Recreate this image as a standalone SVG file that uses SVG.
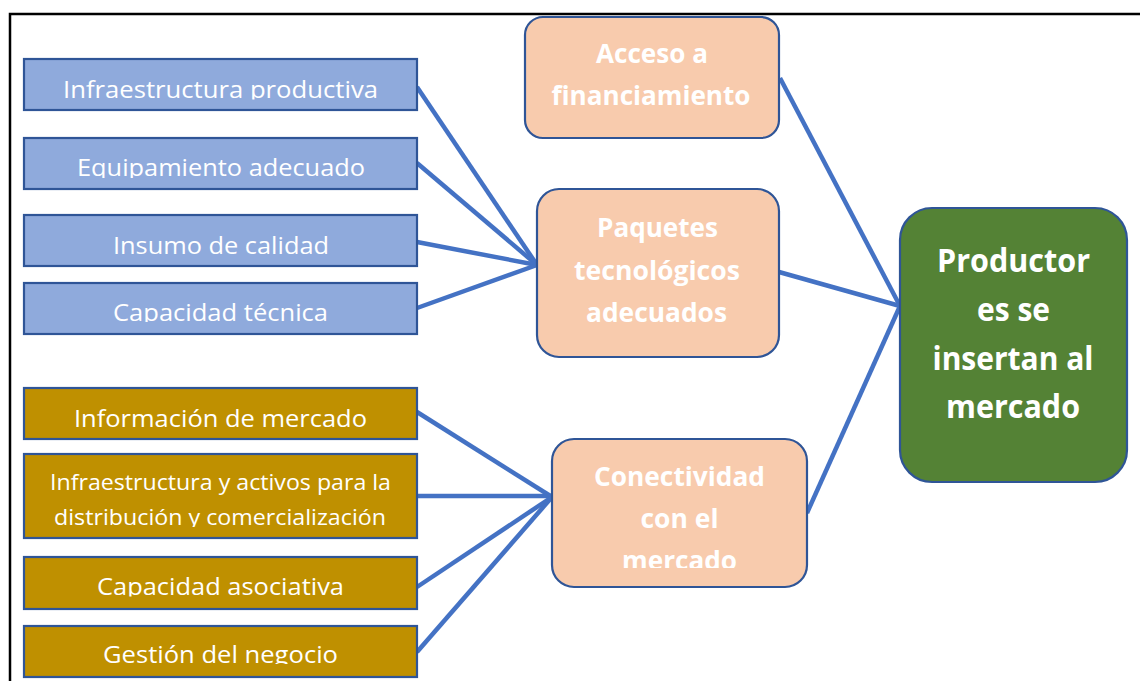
<svg xmlns="http://www.w3.org/2000/svg" width="1140" height="681" viewBox="0 0 1140 681">
<defs>
<style>
.frame{stroke:#000;stroke-width:2.5;fill:none}
.blue{fill:#8faadc;stroke:#2f5597;stroke-width:2.2}
.gold{fill:#bf9000;stroke:#2f5597;stroke-width:2.2}
.peach{fill:#f8cbad;stroke:#2f5597;stroke-width:2.2}
.green{fill:#548235;stroke:#2f5597;stroke-width:2.2}
.conn{stroke:#4472c4;stroke-width:4.5;fill:none;stroke-linecap:butt}
.t{font-family:"Open Sans","Liberation Sans",sans-serif;fill:#fff;text-anchor:middle;font-size:24px}
.t2{font-size:22px}
.b{font-family:"Open Sans","Liberation Sans",sans-serif;fill:#fff;text-anchor:middle;font-weight:bold;font-size:27px}
.g{font-size:32px}
</style>
<clipPath id="c1"><rect x="0" y="0" width="1140" height="99.5"/></clipPath>
<clipPath id="c2"><rect x="0" y="0" width="1140" height="178"/></clipPath>
<clipPath id="c4"><rect x="0" y="0" width="1140" height="322"/></clipPath>
<clipPath id="c6"><rect x="0" y="0" width="1140" height="527"/></clipPath>
<clipPath id="c7"><rect x="0" y="0" width="1140" height="596.5"/></clipPath>
<clipPath id="c8"><rect x="0" y="0" width="1140" height="664"/></clipPath>
<clipPath id="cc"><rect x="0" y="0" width="1140" height="568"/></clipPath>
</defs>
<rect width="1140" height="681" fill="#fff"/>
<path class="frame" d="M10 681 V14 H1140"/>

<g id="connectors">
<line class="conn" x1="417" y1="87" x2="537" y2="265"/>
<line class="conn" x1="417" y1="163" x2="537" y2="265"/>
<line class="conn" x1="417" y1="242" x2="537" y2="265"/>
<line class="conn" x1="417" y1="308" x2="537" y2="265"/>
<line class="conn" x1="417" y1="412" x2="552" y2="497"/>
<line class="conn" x1="417" y1="496" x2="552" y2="496"/>
<line class="conn" x1="417" y1="587" x2="552" y2="497"/>
<line class="conn" x1="417" y1="652" x2="552" y2="497"/>
<line class="conn" x1="780" y1="78" x2="900" y2="306"/>
<line class="conn" x1="779" y1="272" x2="900" y2="306"/>
<line class="conn" x1="807" y1="513" x2="900" y2="306"/>
</g>

<g id="n1"><rect class="blue" x="24" y="59" width="393" height="51"/>
<text class="t" x="220.5" y="98" textLength="315" lengthAdjust="spacingAndGlyphs" clip-path="url(#c1)">Infraestructura productiva</text></g>
<g id="n2"><rect class="blue" x="24" y="138" width="393" height="51"/>
<text class="t" x="221" y="176" textLength="288" lengthAdjust="spacingAndGlyphs" clip-path="url(#c2)">Equipamiento adecuado</text></g>
<g id="n3"><rect class="blue" x="24" y="215" width="393" height="51"/>
<text class="t" x="221" y="254" textLength="216" lengthAdjust="spacingAndGlyphs">Insumo de calidad</text></g>
<g id="n4"><rect class="blue" x="24" y="283" width="393" height="51"/>
<text class="t" x="220.5" y="321" textLength="215" lengthAdjust="spacingAndGlyphs" clip-path="url(#c4)">Capacidad técnica</text></g>

<g id="n5"><rect class="gold" x="24" y="388" width="393" height="51"/>
<text class="t" x="220.5" y="427" textLength="293" lengthAdjust="spacingAndGlyphs">Información de mercado</text></g>
<g id="n6"><rect class="gold" x="24" y="454" width="393" height="84"/>
<text class="t t2" x="220.5" y="490" textLength="341" lengthAdjust="spacingAndGlyphs">Infraestructura y activos para la</text>
<text class="t t2" x="220" y="525" textLength="332" lengthAdjust="spacingAndGlyphs" clip-path="url(#c6)">distribución y comercialización</text></g>
<g id="n7"><rect class="gold" x="24" y="557" width="393" height="52"/>
<text class="t" x="220.5" y="595" textLength="247" lengthAdjust="spacingAndGlyphs" clip-path="url(#c7)">Capacidad asociativa</text></g>
<g id="n8"><rect class="gold" x="24" y="626" width="393" height="51"/>
<text class="t" x="220.5" y="663" textLength="235" lengthAdjust="spacingAndGlyphs" clip-path="url(#c8)">Gestión del negocio</text></g>

<g id="acceso"><rect class="peach" x="525" y="17" width="254" height="121" rx="18"/>
<text class="b" x="652" y="63" textLength="112" lengthAdjust="spacingAndGlyphs">Acceso a</text>
<text class="b" x="651" y="105" textLength="199" lengthAdjust="spacingAndGlyphs">financiamiento</text></g>
<g id="paquetes"><rect class="peach" x="537" y="189" width="242" height="168" rx="22"/>
<text class="b" x="657.5" y="237" textLength="121" lengthAdjust="spacingAndGlyphs">Paquetes</text>
<text class="b" x="657" y="280" textLength="166" lengthAdjust="spacingAndGlyphs">tecnológicos</text>
<text class="b" x="656.5" y="322" textLength="141" lengthAdjust="spacingAndGlyphs">adecuados</text></g>
<g id="conectividad"><rect class="peach" x="552" y="439" width="255" height="148" rx="22"/>
<text class="b" x="679.5" y="486" textLength="171" lengthAdjust="spacingAndGlyphs">Conectividad</text>
<text class="b" x="679.5" y="528" textLength="78" lengthAdjust="spacingAndGlyphs">con el</text>
<text class="b" x="679.5" y="570" textLength="115" lengthAdjust="spacingAndGlyphs" clip-path="url(#cc)">mercado</text></g>
<g id="productores"><rect class="green" x="900" y="208" width="227" height="274" rx="32"/>
<text class="b g" x="1013.5" y="272" textLength="153" lengthAdjust="spacingAndGlyphs">Productor</text>
<text class="b g" x="1013.5" y="321" textLength="73" lengthAdjust="spacingAndGlyphs">es se</text>
<text class="b g" x="1013" y="370" textLength="161" lengthAdjust="spacingAndGlyphs">insertan al</text>
<text class="b g" x="1013" y="418" textLength="134" lengthAdjust="spacingAndGlyphs">mercado</text></g>
</svg>
